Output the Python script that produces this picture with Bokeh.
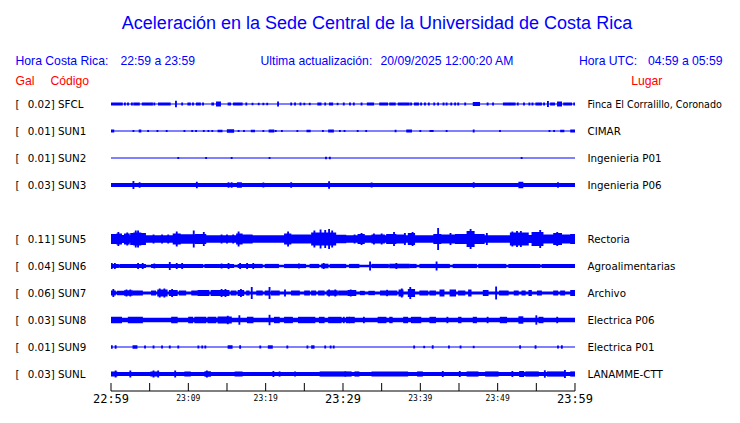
from bokeh.plotting import figure
from bokeh.models import Range1d, ColumnDataSource
from bokeh.embed import file_html
from bokeh.resources import INLINE
from bokeh.core.properties import value

# ---------------- data ----------------
title_text = "Aceleración en la Sede Central de la Universidad de Costa Rica"
hora_cr = "22:59 a 23:59"
ultima = "20/09/2025 12:00:20 AM"
hora_utc = "04:59 a 05:59"

stations = ["SFCL", "SUN1", "SUN2", "SUN3", "SUN5", "SUN6", "SUN7", "SUN8", "SUN9", "SUNL"]
rows = [0, 1, 2, 3, 5, 6, 7, 8, 9, 10]
peak_gal = [0.02, 0.01, 0.01, 0.03, 0.11, 0.04, 0.06, 0.03, 0.01, 0.03]
places = ["Finca El Corralillo, Coronado", "CIMAR", "Ingenieria P01", "Ingenieria P06",
          "Rectoria", "Agroalimentarias", "Archivo", "Electrica P06", "Electrica P01", "LANAMME-CTT"]

# background (noise) half-amplitude of each trace, mGal
base_mgal = [6, 5, 5, 20, 37, 12, 15, 23, 6, 19]

# bursts: (start minute after 22:59, end minute, half-amplitude mGal)
sfcl_bursts = [(0, 1.4, 16), (1.8, 1.8, 16), (2.2, 2.2, 16), (2.7, 2.7, 16), (3.0, 3.6, 16), (4.1, 5.1, 16),
               (5.3, 5.3, 16), (5.6, 5.6, 16), (6.2, 7.6, 16), (8.4, 8.4, 33), (9.2, 9.2, 16), (10.0, 10.2, 16),
               (10.6, 10.6, 16), (11.1, 11.5, 16), (11.9, 11.9, 16), (13.1, 13.2, 16), (13.7, 14.1, 25),
               (15.2, 15.4, 16), (15.9, 16.9, 16), (17.5, 17.5, 16), (18.3, 18.3, 12), (19.1, 19.1, 12),
               (19.7, 19.7, 12), (20.2, 20.2, 12), (21.6, 21.6, 25), (23.3, 23.3, 16), (23.8, 23.8, 16),
               (24.5, 24.5, 16), (25.0, 25.0, 12), (25.7, 25.7, 12), (26.8, 27.1, 16), (27.7, 27.7, 16),
               (28.3, 28.6, 16), (29.3, 29.3, 12), (30.1, 30.1, 16), (30.9, 30.9, 16), (31.4, 31.4, 16),
               (32.4, 32.4, 16), (33.2, 33.9, 16), (34.8, 35.7, 16), (36.1, 36.7, 16), (37.2, 37.7, 16),
               (37.9, 38.5, 16), (38.8, 38.8, 16), (39.3, 39.7, 16), (40.1, 40.1, 16), (40.6, 40.6, 16),
               (41.1, 41.1, 16), (41.8, 41.8, 16), (42.3, 42.3, 16), (43.0, 43.0, 16), (43.4, 43.4, 16),
               (44.0, 44.0, 16), (44.5, 44.5, 16), (44.9, 44.9, 16), (45.8, 45.8, 16), (46.9, 47.6, 20),
               (48.7, 48.7, 16), (49.4, 49.4, 16), (50.8, 51.5, 16), (51.7, 52.2, 16), (52.6, 52.6, 16),
               (53.4, 53.4, 16), (54.1, 54.1, 16), (54.5, 54.5, 16), (55.0, 55.6, 16), (56.0, 56.0, 16),
               (56.5, 56.5, 30), (56.9, 57.3, 16), (57.8, 58.2, 25), (58.6, 59.5, 16), (59.9, 59.9, 16)]

sun1_bursts = [(0, 0.3, 16), (2.9, 2.9, 10), (3.7, 3.8, 16), (4.8, 4.8, 10), (6.0, 6.0, 10), (7.2, 7.2, 10),
               (9.5, 9.5, 10), (10.5, 10.5, 10), (11.0, 11.0, 10), (12.0, 12.0, 10), (12.6, 12.6, 10),
               (13.1, 13.1, 10), (13.9, 14.3, 12), (15.1, 15.8, 17), (16.5, 16.5, 10), (17.2, 17.2, 10),
               (18.2, 18.5, 12), (19.7, 19.7, 10), (20.5, 21.0, 14), (21.3, 21.3, 10), (22.1, 22.1, 10),
               (24.1, 24.1, 10), (25.4, 25.7, 12), (27.4, 27.4, 10), (28.2, 28.7, 14), (29.6, 29.6, 10),
               (30.2, 30.2, 10), (31.9, 31.9, 10), (33.0, 33.0, 10), (36.8, 36.8, 12), (38.3, 38.8, 16),
               (40.0, 40.0, 10), (41.3, 41.6, 10), (43.4, 43.4, 10), (46.9, 46.9, 15), (50.3, 50.3, 10),
               (56.7, 56.7, 10), (57.3, 57.3, 10), (58.2, 58.5, 12), (59.5, 60.0, 16)]

sun2_bursts = [(8.7, 8.7, 9), (12.3, 12.3, 9), (15.6, 15.6, 9), (20.5, 20.5, 9), (27.8, 27.8, 12),
               (28.3, 28.3, 12), (53.1, 53.1, 10)]

sun3_bursts = [(2.9, 2.9, 40), (3.7, 3.7, 28), (11.1, 11.1, 32), (15.2, 15.2, 28), (15.6, 15.6, 28),
               (16.4, 16.8, 28), (19.7, 19.7, 24), (23.3, 23.3, 28), (28.2, 28.2, 37), (33.7, 33.7, 24),
               (46.9, 46.9, 28), (52.8, 53.2, 32), (57.8, 57.8, 28)]

sun5_bursts = [(0, 0.8, 50), (0.95, 0.95, 70), (0.8, 1.3, 55), (1.3, 1.8, 40), (1.8, 2.3, 55), (2.1, 2.1, 65),
               (2.6, 3.0, 60), (3.0, 3.8, 65), (3.2, 3.2, 85), (3.5, 3.5, 85), (3.8, 4.4, 60), (5.5, 5.5, 45),
               (6.6, 6.6, 45), (7.4, 7.4, 45), (8.1, 8.9, 55), (8.5, 8.5, 75), (8.9, 10.5, 48), (10.7, 10.7, 85),
               (10.9, 12.2, 50), (12.0, 12.0, 70), (14.3, 14.3, 45), (15.0, 15.0, 45), (15.8, 15.8, 45),
               (16.3, 16.9, 55), (16.5, 16.5, 75), (16.9, 18.2, 45), (22.5, 23.2, 55), (22.9, 22.9, 75),
               (23.2, 25.8, 45), (26.0, 29.0, 65), (26.3, 26.3, 85), (27.1, 27.1, 95), (27.7, 27.7, 90),
               (28.2, 28.2, 100), (28.6, 28.6, 85), (29.2, 30.3, 42), (31.5, 31.5, 45), (32.0, 32.7, 50),
               (32.4, 32.4, 60), (33.8, 35.3, 45), (34.0, 34.0, 55), (35.0, 35.0, 55), (35.7, 36.8, 50),
               (36.6, 36.6, 70), (37.0, 38.0, 45), (38.0, 38.0, 60), (38.5, 39.2, 60), (39.0, 39.0, 70),
               (41.8, 42.6, 50), (42.3, 42.3, 110), (42.6, 44.6, 45), (43.9, 43.9, 60), (44.6, 46.1, 50),
               (46.1, 46.9, 80), (46.5, 46.5, 100), (46.9, 48.2, 50), (48.6, 48.6, 60), (51.7, 53.9, 65),
               (51.9, 51.9, 75), (52.5, 52.5, 80), (53.0, 53.0, 80), (53.9, 54.5, 40), (54.5, 55.8, 70),
               (55.5, 55.5, 90), (55.8, 57.3, 45), (57.3, 58.2, 60), (57.7, 57.7, 70), (58.2, 59.5, 45),
               (59.5, 60.0, 50)]

sun6_bursts = [(0.0, 0.9, 21), (1.2, 4.4, 21), (5.3, 11.8, 21), (12.2, 13.9, 21), (14.1, 15.8, 21),
               (16.5, 19.5, 21), (20.0, 21.6, 21), (22.5, 25.1, 21), (25.8, 26.8, 21), (27.3, 28.0, 23),
               (28.4, 30.3, 21), (30.9, 32.0, 21), (33.8, 35.8, 21), (36.1, 38.5, 23), (38.7, 39.4, 21),
               (40.0, 43.7, 21), (44.3, 47.2, 21), (47.6, 51.0, 21), (51.5, 55.4, 21), (55.8, 60.0, 21),
               (0.1, 0.1, 30), (0.5, 0.5, 30), (3.5, 3.5, 30), (4.1, 4.1, 30), (5.6, 5.6, 25), (7.6, 7.6, 40),
               (8.5, 8.5, 30), (9.2, 9.2, 30), (14.3, 14.3, 25), (15.2, 15.2, 30), (16.7, 16.7, 30),
               (17.6, 17.6, 30), (18.4, 18.4, 30), (24.3, 24.3, 25), (27.5, 27.5, 30), (33.5, 33.5, 45),
               (36.9, 36.9, 30), (42.1, 42.1, 45)]

sun7_bursts = [(0, 0.5, 25), (0.3, 0.3, 40), (0.9, 1.6, 22), (1.8, 2.7, 27), (2.0, 2.0, 35), (2.5, 2.5, 35),
               (2.9, 3.3, 25), (3.5, 4.0, 25), (5.3, 5.7, 25), (6.1, 7.2, 35), (6.3, 6.3, 45), (6.9, 6.9, 45),
               (7.6, 8.5, 30), (7.9, 7.9, 40), (8.9, 9.6, 25), (10.5, 11.1, 25), (11.3, 12.6, 30),
               (13.0, 15.2, 30), (14.3, 14.3, 40), (14.8, 14.8, 40), (15.6, 16.1, 25), (16.5, 17.1, 30),
               (16.8, 16.8, 40), (17.6, 17.8, 25), (18.2, 18.2, 60), (18.9, 19.5, 25), (20.0, 20.4, 25),
               (20.5, 20.5, 60), (20.8, 21.7, 25), (22.5, 22.5, 35), (23.4, 24.3, 25), (25.1, 25.6, 25),
               (26.0, 26.4, 25), (26.9, 27.5, 25), (28.0, 29.2, 27), (28.2, 28.2, 35), (29.0, 29.0, 35),
               (29.5, 30.5, 25), (30.7, 31.6, 30), (31.0, 31.0, 35), (32.3, 32.7, 22), (33.4, 34.0, 22),
               (34.9, 36.9, 25), (35.7, 35.7, 32), (37.3, 37.7, 35), (37.6, 37.6, 45), (38.5, 39.2, 40),
               (38.7, 38.7, 60), (40.0, 40.9, 25), (41.3, 41.9, 25), (42.6, 43.0, 35), (43.9, 44.5, 35),
               (45.0, 45.7, 25), (46.3, 46.5, 35), (48.2, 48.7, 30), (49.8, 49.8, 65), (50.3, 51.3, 25),
               (52.2, 52.6, 25), (53.2, 53.5, 25), (54.1, 54.3, 30), (55.2, 55.6, 25), (57.3, 57.7, 25),
               (58.2, 58.6, 25), (59.5, 60.0, 30)]

sun8_bursts = [(0, 1.3, 32), (2.3, 4.0, 32), (7.9, 8.5, 32), (10.1, 10.5, 32), (10.9, 12.2, 32),
               (12.6, 13.5, 32), (13.9, 15.5, 34), (15.1, 15.1, 42), (16.6, 16.6, 47), (17.7, 18.3, 32),
               (20.5, 20.5, 52), (21.2, 21.7, 32), (22.5, 23.4, 32), (24.3, 26.3, 32), (27.0, 27.5, 32),
               (28.2, 29.7, 32), (30.1, 30.1, 32), (30.5, 30.8, 32), (30.9, 31.4, 32), (32.7, 32.7, 32),
               (34.6, 35.5, 32), (36.1, 36.3, 32), (37.9, 38.3, 32), (38.9, 40.0, 32), (41.3, 41.9, 32),
               (43.5, 43.5, 32), (45.0, 45.2, 32), (46.9, 47.2, 32), (48.7, 48.7, 32), (50.4, 51.1, 32),
               (52.8, 53.2, 37), (55.0, 55.0, 47), (55.4, 55.8, 32), (57.7, 57.7, 32)]

sun9_bursts = [(0.1, 0.1, 17), (0.6, 0.6, 17), (2.9, 3.3, 17), (4.4, 4.4, 15), (5.5, 5.5, 15), (6.6, 6.6, 15),
               (7.6, 7.6, 15), (8.7, 8.7, 15), (11.3, 11.3, 15), (11.8, 11.8, 15), (12.2, 12.2, 15),
               (15.2, 15.6, 17), (16.7, 16.7, 17), (19.3, 19.3, 15), (20.4, 20.8, 17), (22.8, 22.8, 15),
               (25.4, 25.4, 15), (26.0, 26.2, 17), (27.7, 27.7, 15), (28.4, 28.4, 15), (28.8, 28.8, 15),
               (39.2, 39.2, 15), (40.5, 40.5, 12), (41.6, 41.6, 17), (43.7, 43.7, 15), (45.2, 45.2, 15),
               (46.9, 46.9, 12), (52.9, 52.9, 17), (54.9, 54.9, 17), (57.8, 57.8, 15), (58.3, 58.3, 17)]

sunl_bursts = [(0, 0.7, 26), (0.6, 0.6, 35), (2.5, 2.5, 35), (5.2, 6.1, 26), (5.5, 5.5, 35), (6.1, 6.1, 35),
               (8.3, 8.3, 35), (9.6, 10.2, 26), (12.2, 12.8, 28), (12.4, 12.4, 35), (16.1, 16.9, 26),
               (21.0, 21.0, 30), (21.8, 21.8, 26), (23.8, 23.8, 26), (27.1, 30.3, 26), (30.3, 31.0, 26),
               (31.6, 32.0, 26), (33.8, 38.3, 26), (39.7, 40.2, 26), (42.9, 42.9, 30), (45.1, 45.1, 30),
               (46.1, 47.4, 26), (48.5, 50.0, 26), (51.9, 51.9, 30), (52.9, 53.3, 30), (53.7, 55.2, 26),
               (56.1, 56.1, 37), (56.5, 58.6, 26), (58.7, 58.7, 40), (59.5, 60.0, 26)]

all_bursts = [sfcl_bursts, sun1_bursts, sun2_bursts, sun3_bursts, sun5_bursts,
              sun6_bursts, sun7_bursts, sun8_bursts, sun9_bursts, sunl_bursts]

tick_minutes = [0, 5, 10, 15, 20, 25, 30, 35, 40, 45, 50, 55, 60]
label_minutes = [0, 10, 20, 30, 40, 50, 60]
label_texts = ["22:59", "23:09", "23:19", "23:29", "23:39", "23:49", "23:59"]
label_big = [True, False, False, True, False, False, True]

# ---------------- layout helpers (figure pixels -> data) ----------------
W, H = 724, 407
PX0 = 110.5          # x pixel of 22:59
PPM = 7.7333         # pixels per minute
PY0 = 103.5          # y pixel of row 0
PPR = 27.0           # pixels per row
PX_PER_GAL = 100.0   # trace amplitude scale


def xm(px):
    return (px - PX0) / PPM


def yr(py):
    return (py - PY0) / PPR


def amp_rows(mgal):
    return mgal / 1000.0 * PX_PER_GAL / PPR


BLUE = "#0000ff"
RED = "#ff0000"

p = figure(width=W, height=H, output_backend="svg", toolbar_location=None,
           x_range=Range1d(xm(0), xm(W)), y_range=Range1d(yr(H), yr(0)),
           x_axis_type=None, y_axis_type=None, min_border=0)
p.outline_line_color = None
p.background_fill_color = "white"
p.border_fill_color = "white"

# ---------------- traces ----------------
L, R, B, T = [], [], [], []
for row, base, bursts in zip(rows, base_mgal, all_bursts):
    a = amp_rows(base)
    L.append(0.0); R.append(60.0); B.append(row - a); T.append(row + a)
    for t0, t1, amp in bursts:
        a = amp_rows(amp)
        L.append(max(0.0, t0 - 0.12)); R.append(min(60.0, t1 + 0.12))
        B.append(row - a); T.append(row + a)
src = ColumnDataSource(dict(left=L, right=R, bottom=B, top=T))
p.quad(left="left", right="right", bottom="bottom", top="top", source=src,
       fill_color=BLUE, line_color=None)

# ---------------- station labels ----------------
p.text(x=[xm(15)] * len(rows), y=rows, text=["["] * len(rows),
       text_font=value("DejaVu Sans"), text_font_size="10.3px", text_color="black",
       text_align="left", text_baseline="middle")
p.text(x=[xm(27.3)] * len(rows), y=rows,
       text=[f"{v:.2f}] {s}" for v, s in zip(peak_gal, stations)],
       text_font=value("DejaVu Sans"), text_font_size="10.3px", text_color="black",
       text_align="left", text_baseline="middle")
p.text(x=[xm(587)], y=rows[:1], text=places[:1],
       text_font=value("DejaVu Sans"), text_font_size="9.6px", text_color="black",
       text_align="left", text_baseline="middle")
p.text(x=[xm(587)] * (len(rows) - 1), y=rows[1:], text=places[1:],
       text_font=value("DejaVu Sans"), text_font_size="10.3px", text_color="black",
       text_align="left", text_baseline="middle")

# ---------------- header ----------------
p.text(x=[xm(376.5)], y=[yr(22)], text=[title_text],
       text_font=value("Liberation Sans"), text_font_size="18px", text_color=BLUE,
       text_align="center", text_baseline="middle")
hx = [xm(15), xm(120), xm(260), xm(380), xm(578.5), xm(647.5)]
ht = ["Hora Costa Rica:", hora_cr, "Ultima actualización:", ultima, "Hora UTC:", hora_utc]
p.text(x=hx, y=[yr(60.5)] * len(hx), text=ht,
       text_font=value("Liberation Sans"), text_font_size="12.2px", text_color=BLUE,
       text_align="left", text_baseline="middle")
p.text(x=[xm(15), xm(50), xm(630.7)], y=[yr(80.5)] * 3, text=["Gal", "Código", "Lugar"],
       text_font=value("Liberation Sans"), text_font_size="12.2px", text_color=RED,
       text_align="left", text_baseline="middle")

# ---------------- time axis ----------------
axis_y = yr(390.5)
tick_top = yr(382.5)
p.segment(x0=[0], y0=[axis_y], x1=[60], y1=[axis_y], line_color="black", line_width=1)
p.segment(x0=tick_minutes, y0=[axis_y] * len(tick_minutes), x1=tick_minutes,
          y1=[tick_top] * len(tick_minutes), line_color="black", line_width=1)
big_x = [m for m, b in zip(label_minutes, label_big) if b]
big_t = [t for t, b in zip(label_texts, label_big) if b]
small_x = [m for m, b in zip(label_minutes, label_big) if not b]
small_t = [t for t, b in zip(label_texts, label_big) if not b]
p.text(x=big_x, y=[yr(391)] * len(big_x), text=big_t,
       text_font=value("DejaVu Sans Mono"), text_font_size="12px", text_color="black",
       text_align="center", text_baseline="top")
p.text(x=small_x, y=[yr(393)] * len(small_x), text=small_t,
       text_font=value("DejaVu Sans Mono"), text_font_size="8px", text_color="black",
       text_align="center", text_baseline="top")

open("out.html", "w").write(file_html(p, INLINE))
